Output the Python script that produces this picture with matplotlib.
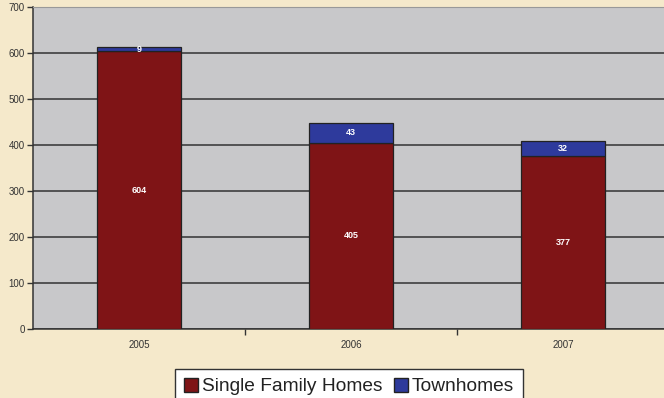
import matplotlib
matplotlib.use("Agg")
import matplotlib.pyplot as plt
from matplotlib.patches import Patch

years = ["2005", "2006", "2007"]
single_family = [604, 405, 377]
townhomes = [9, 43, 32]
y_ticks = [0, 100, 200, 300, 400, 500, 600, 700]

plt.rcParams["font.family"] = ["Liberation Sans", "DejaVu Sans"]

bg = "#F5E9CB"
plot_bg = "#C8C8CA"
maroon = "#7F1416"
blue = "#2E3A9C"
edge = "#222222"

fig = plt.figure(figsize=(6.64, 3.98), dpi=100, facecolor=bg)
ax = fig.add_axes([33 / 664, 1 - 329 / 398, 1 - 33 / 664, (329 - 7) / 398])
ax.set_facecolor(plot_bg)

x = list(range(len(years)))
w = 0.4
b1 = ax.bar(x, single_family, width=w, color=maroon, edgecolor=edge, linewidth=0.9, zorder=3)
b2 = ax.bar(x, townhomes, width=w, bottom=single_family, color=blue, edgecolor=edge,
            linewidth=0.9, zorder=3)

for xi, s, t in zip(x, single_family, townhomes):
    ax.text(xi, s / 2, str(s), ha="center", va="center", color="white",
            fontsize=6.5, fontweight="bold", zorder=4)
    ax.text(xi, s + t / 2, str(t), ha="center", va="center", color="white",
            fontsize=6.5, fontweight="bold", zorder=4)

ax.set_ylim(0, 700)
ax.set_xlim(-0.5, 2.476)
ax.set_yticks(y_ticks)
ax.yaxis.grid(True, color="#333333", linewidth=1.1, zorder=1)
ax.set_axisbelow(True)

ax.set_xticks(x)
ax.set_xticklabels(years)
ax.set_xticks([0.5, 1.5], minor=True)
ax.tick_params(axis="x", which="major", length=0, pad=8, labelsize=7, labelcolor="#333333")
ax.tick_params(axis="x", which="minor", length=4, width=1, color="#333333", direction="out")
ax.tick_params(axis="y", length=4, width=1, color="#333333", labelsize=7,
               labelcolor="#333333", pad=2)

ax.spines["right"].set_visible(False)
ax.spines["top"].set_color("#999999")
ax.spines["left"].set_color("#333333")
ax.spines["bottom"].set_color("#333333")
ax.spines["left"].set_linewidth(1.1)
ax.spines["bottom"].set_linewidth(1.1)

handles = [Patch(facecolor=maroon, edgecolor=edge, linewidth=1.0),
           Patch(facecolor=blue, edgecolor=edge, linewidth=1.0)]
leg = fig.legend(handles, ["Single Family Homes", "Townhomes"],
                 loc="upper center", bbox_to_anchor=(349 / 664, 1 - 369 / 398),
                 ncol=2, frameon=True, fancybox=False, fontsize=13.8, framealpha=1.0,
                 handlelength=0.75, handleheight=0.75, handletextpad=0.2,
                 columnspacing=0.6, borderpad=0.45, borderaxespad=0)
leg.get_frame().set_edgecolor("#333333")
leg.get_frame().set_linewidth(1.0)
leg.get_frame().set_facecolor("white")
for t in leg.get_texts():
    t.set_color("#222222")

fig.savefig("out.png", dpi=100, facecolor=bg)
